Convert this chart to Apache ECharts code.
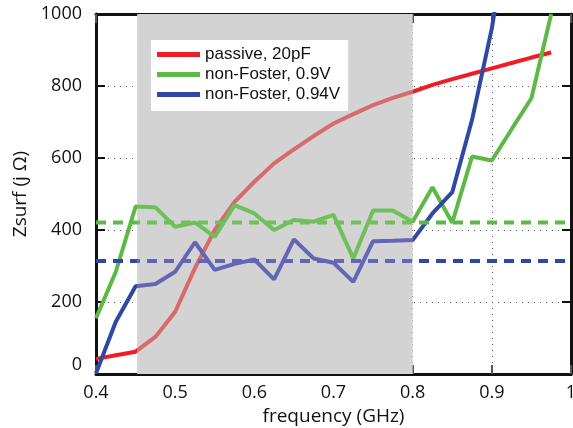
<!DOCTYPE html>
<html>
<head>
<meta charset="utf-8">
<script src="https://cdn.jsdelivr.net/npm/echarts@6/dist/echarts.min.js"></script>
<style>
html,body{margin:0;padding:0;background:#fff;}
#chart{width:573px;height:428px;}
</style>
</head>
<body>
<div id="chart"></div>
<script>
// ---- data ----
var freq = [0.4, 0.425, 0.45, 0.475, 0.5, 0.525, 0.55, 0.575, 0.6, 0.625, 0.65, 0.675,
            0.7, 0.725, 0.75, 0.775, 0.8, 0.825, 0.85, 0.875, 0.9, 0.925, 0.95, 0.975];
var passive20pF = [42, 52, 62, 103, 173, 294, 400, 478, 534, 585, 624, 661,
                   696, 722, 747, 767, 784, 803, 819, 834, 849, 864, 879, 893];
var nonFoster090 = [155, 284, 465, 463, 409, 421, 381, 469, 446, 400, 428, 423,
                    442, 321, 454, 454, 423, 519, 420, 604, 593, 680, 766, 1000];
var nonFoster094 = [2, 145, 244, 250, 284, 366, 289, 306, 318, 263, 374, 321,
                    309, 256, 369, 370, 372, 446, 505, 706, 960, 1300, null, null];
var avgFreq = [0.4, 0.993];
var avg090 = [421, 421];
var avg094 = [314, 314];
var shadedBand = [0.452, 0.8];
var seriesNames = ['passive, 20pF', 'non-Foster, 0.9V', 'non-Foster, 0.94V'];
var xTickLabels = ['0.4', '0.5', '0.6', '0.7', '0.8', '0.9', '1'];
var yTickLabels = ['0', '200', '400', '600', '800', '1000'];

// ---- colours ----
var RED = '#ee1c25', RED_IN = '#d86a6c';
var GREEN = '#5db946', GREEN_IN = '#6dc05a';
var BLUE = '#2f48a2', BLUE_IN = '#6565b6';

function pairs(xs, ys) {
  var out = [];
  for (var i = 0; i < xs.length; i++) out.push([xs[i], ys[i]]);
  return out;
}
function vm(idx, outC, inC) {
  return {
    type: 'piecewise', show: false, dimension: 0, seriesIndex: idx,
    pieces: [
      {lt: shadedBand[0], color: outC},
      {gte: shadedBand[0], lte: shadedBand[1], color: inC},
      {gt: shadedBand[1], color: outC}
    ]
  };
}

var chart = echarts.init(document.getElementById('chart'), null, {renderer: 'canvas'});
var axisFont = 'Open Sans';

var option = {
  animation: false,
  backgroundColor: '#ffffff',
  grid: {left: 96, right: 2, top: 14, bottom: 54, containLabel: false, outerBoundsMode: 'none'},
  legend: {
    left: 151, top: 40, orient: 'vertical',
    backgroundColor: '#ffffff',
    padding: [6, 8, 8, 6],
    itemGap: 3, itemWidth: 43, itemHeight: 5,
    icon: 'rect',
    textStyle: {fontFamily: 'Liberation Sans', fontSize: 17, color: '#111', lineHeight: 14},
    data: [
      {name: seriesNames[0], itemStyle: {color: RED}},
      {name: seriesNames[1], itemStyle: {color: GREEN}},
      {name: seriesNames[2], itemStyle: {color: BLUE}}
    ]
  },
  visualMap: [vm(1, RED, RED_IN), vm(2, GREEN, GREEN_IN), vm(3, BLUE, BLUE_IN),
              vm(4, GREEN, GREEN_IN), vm(5, BLUE, BLUE_IN)],
  xAxis: [{
    type: 'value', min: 0.4, max: 1, interval: 0.1,
    name: 'frequency (GHz)', nameLocation: 'middle', nameGap: 30,
    nameTextStyle: {fontFamily: axisFont, fontSize: 19, color: '#111'},
    axisLine: {onZero: false, lineStyle: {color: '#111', width: 3}},
    axisTick: {inside: true, length: 9, lineStyle: {color: '#555', width: 2}},
    axisLabel: {fontFamily: axisFont, fontSize: 18, color: '#111', margin: 10,
      formatter: function (v) { return xTickLabels[Math.round((v - 0.4) * 10)]; }},
    splitLine: {show: true, lineStyle: {color: '#555', width: 1, type: [1, 5]}}
  }, {
    type: 'value', min: 0.4, max: 1, interval: 0.1, position: 'top',
    axisLine: {onZero: false, lineStyle: {color: '#111', width: 3}},
    axisTick: {inside: true, length: 9, lineStyle: {color: '#555', width: 2}},
    axisLabel: {show: false}, splitLine: {show: false}
  }],
  yAxis: [{
    type: 'value', min: 0, max: 1000, interval: 200,
    name: 'Zsurf (j Ω)', nameLocation: 'middle', nameGap: 64,
    nameTextStyle: {fontFamily: axisFont, fontSize: 19, color: '#111'},
    axisLine: {show: true, onZero: false, lineStyle: {color: '#111', width: 3}},
    axisTick: {show: true, inside: true, length: 9, lineStyle: {color: '#111', width: 2}},
    axisLabel: {fontFamily: axisFont, fontSize: 18, color: '#111', margin: 14,
      verticalAlignMinLabel: 'bottom',
      formatter: function (v) { return yTickLabels[Math.round(v / 200)]; }},
    splitLine: {show: true, lineStyle: {color: '#555', width: 1, type: [1, 5]}}
  }, {
    type: 'value', min: 0, max: 1000, interval: 200, position: 'right',
    axisLine: {show: true, onZero: false, lineStyle: {color: '#111', width: 3}},
    axisTick: {show: true, inside: true, length: 9, lineStyle: {color: '#111', width: 2}},
    axisLabel: {show: false}, splitLine: {show: false}
  }],
  series: [
    {
      type: 'line', name: 'band', data: [], z: -1, silent: true,
      markArea: {silent: true, itemStyle: {color: '#d3d3d3'},
        data: [[{xAxis: shadedBand[0]}, {xAxis: shadedBand[1]}]]}
    },
    {type: 'line', name: seriesNames[0], data: pairs(freq, passive20pF), showSymbol: false,
     lineStyle: {width: 4}, z: 3},
    {type: 'line', name: seriesNames[1], data: pairs(freq, nonFoster090), showSymbol: false,
     lineStyle: {width: 4}, z: 3},
    {type: 'line', name: seriesNames[2], data: pairs(freq, nonFoster094), showSymbol: false,
     lineStyle: {width: 4}, z: 3},
    {type: 'line', name: 'avg090', data: pairs(avgFreq, avg090), showSymbol: false,
     lineStyle: {width: 4, type: [10, 7]}, z: 3},
    {type: 'line', name: 'avg094', data: pairs(avgFreq, avg094), showSymbol: false,
     lineStyle: {width: 4, type: [10, 7]}, z: 3}
  ]
};
chart.setOption(option);
</script>
</body>
</html>
